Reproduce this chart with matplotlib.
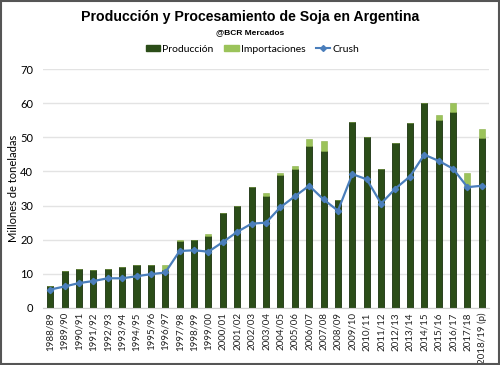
import matplotlib.pyplot as plt
import numpy as np
from matplotlib.patches import Rectangle
from matplotlib.lines import Line2D

# campañas
campanias = ["1988/89", "1989/90", "1990/91", "1991/92", "1992/93", "1993/94",
             "1994/95", "1995/96", "1996/97", "1997/98", "1998/99", "1999/00",
             "2000/01", "2001/02", "2002/03", "2003/04", "2004/05", "2005/06",
             "2006/07", "2007/08", "2008/09", "2009/10", "2010/11", "2011/12",
             "2012/13", "2013/14", "2014/15", "2015/16", "2016/17", "2017/18",
             "2018/19 (p)"]

# millones de toneladas
produccion = [6.3, 10.7, 11.3, 11.1, 11.3, 12.1, 12.7, 12.5, 11.0, 19.6, 19.9, 21.2,
              27.8, 30.0, 35.4, 32.9, 38.9, 40.6, 47.5, 46.1, 31.7, 54.6, 50.2, 40.8,
              48.2, 54.3, 60.1, 55.2, 57.3, 35.5, 49.9]
importaciones = [0, 0, 0, 0, 0, 0, 0, 0, 1.5, 0.2, 0.1, 0.4,
                 0.1, 0, 0.1, 0.8, 0.7, 1.0, 2.1, 2.9, 0, 0, 0, 0,
                 0, 0, 0, 1.2, 2.6, 4.0, 2.4]
crush = [5.4, 6.3, 7.3, 7.9, 8.7, 8.7, 9.3, 9.9, 10.4, 16.7, 16.9, 16.5,
         19.3, 22.3, 24.7, 25.0, 29.5, 32.7, 35.8, 31.8, 28.5, 39.2, 37.7, 30.6,
         35.0, 38.5, 44.9, 43.1, 40.8, 35.4, 35.8]

verde_osc = "#2b4d18"
borde_osc = "#1a320e"
verde_cla = "#9bc35a"
azul = "#4a7ebb"

plt.rcParams['font.family'] = ['Lato', 'DejaVu Sans']

fig = plt.figure(figsize=(5, 3.65), dpi=100)
ax = fig.add_axes([43/500, 1-308/365, 446/500, 239/365])

x = np.arange(len(campanias))
ax.bar(x, produccion, 0.42, color=verde_osc, edgecolor=borde_osc, linewidth=0.6, zorder=2)
ax.bar(x, importaciones, 0.42, bottom=produccion, color=verde_cla, edgecolor="#8ab04a",
       linewidth=0.4, zorder=2)
ax.plot(x, crush, color=azul, linewidth=1.6, marker="D", markersize=3.2, zorder=3)

ax.set_xlim(-0.5, len(campanias) - 0.5)
ax.set_ylim(0, 70)
ax.set_yticks(range(0, 71, 10))
ax.set_xticks(x)
ax.set_xticklabels(campanias, rotation=90, fontsize=7, color="#222222")
ax.tick_params(axis='y', labelsize=8, length=0, pad=7)
ax.tick_params(axis='x', length=0, pad=3)
ax.grid(axis='y', color="#e3e3e3", linewidth=1, zorder=0)
for s in ["top", "right", "left"]:
    ax.spines[s].set_visible(False)
ax.spines["bottom"].set_color("#d0d0d0")
ax.set_ylabel("Millones de toneladas", fontsize=8, labelpad=1)

# titulo y subtitulo
fig.text(0.5, 1-17/365, "Producción y Procesamiento de Soja en Argentina", ha='center',
         va='center', fontsize=10.2, fontweight='bold', family=['Liberation Sans', 'DejaVu Sans'])
fig.text(0.5, 1-33/365, "@BCR Mercados", ha='center', va='center', fontsize=6,
         fontweight='bold', family=['Liberation Sans', 'DejaVu Sans'])

handles = [Rectangle((0, 0), 1, 1, color=verde_osc),
           Rectangle((0, 0), 1, 1, color=verde_cla),
           Line2D([], [], color=azul, marker="D", markersize=3, linewidth=1.5)]
fig.legend(handles, ["Producción", "Importaciones", "Crush"], loc='center',
           bbox_to_anchor=(0.505, 1-49/365), ncol=3, frameon=False, fontsize=7.5,
           handlelength=1.4, handleheight=0.5, handletextpad=0.2, columnspacing=1.0)

# marco
fig.patches.append(Rectangle((0.002, 0.003), 0.996, 0.994, transform=fig.transFigure,
                             fill=False, edgecolor="#555555", linewidth=1.5))

fig.savefig("out.png", dpi=100)
